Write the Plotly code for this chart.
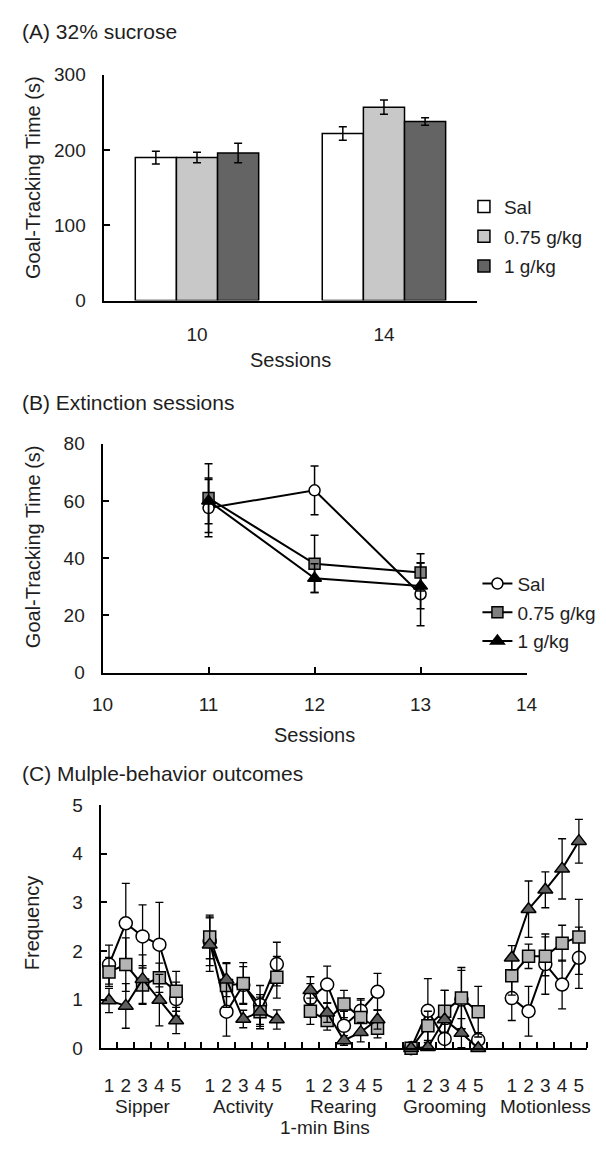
import plotly.graph_objects as go

# ---------------- Data ----------------
# Panel A: 32% sucrose
a_sessions = ["10", "14"]
a_sal = [190, 222]
a_sal_err = [8.5, 9]
a_075 = [190, 257]
a_075_err = [7, 9.5]
a_1g = [196, 238]
a_1g_err = [13, 5]

# Panel B: extinction sessions
b_sessions = [11, 12, 13]
b_sal = [57.5, 63.7, 27.4]
b_sal_err = [10, 8.5, 11]
b_075 = [61, 38, 35]
b_075_err = [12, 10, 6.5]
b_1g = [60, 33, 30.3]
b_1g_err = [8, 5, 8]

# Panel C: multiple-behavior outcomes (5 one-minute bins per behavior)
c_groups = ["Sipper", "Activity", "Rearing", "Grooming", "Motionless"]
c_bins = ["1", "2", "3", "4", "5"]
c_sal = [1.72, 2.57, 2.30, 2.13, 1.01,
         2.20, 0.75, 1.30, 0.89, 1.73,
         1.03, 1.31, 0.46, 0.77, 1.16,
         0.00, 0.77, 0.19, 1.00, 0.17,
         1.03, 0.76, 1.73, 1.31, 1.86]
c_sal_err = [0.40, 0.82, 0.65, 0.87, 0.35,
             0.50, 0.50, 0.38, 0.40, 0.45,
             0.30, 0.38, 0.30, 0.25, 0.38,
             0.00, 0.66, 0.30, 0.60, 0.15,
             0.46, 0.51, 0.62, 0.50, 0.63]
c_075 = [1.57, 1.72, 1.30, 1.45, 1.17,
         2.29, 1.29, 1.33, 0.75, 1.46,
         0.76, 0.57, 0.91, 0.63, 0.41,
         0.00, 0.46, 0.76, 1.03, 0.75,
         1.49, 1.89, 1.89, 2.16, 2.29]
c_075_err = [0.30, 0.55, 0.40, 0.30, 0.41,
             0.45, 0.45, 0.43, 0.35, 0.43,
             0.27, 0.20, 0.28, 0.36, 0.20,
             0.00, 0.30, 0.43, 0.63, 0.52,
             0.40, 0.25, 0.40, 0.37, 0.77]
c_1g = [0.98, 0.87, 1.42, 0.99, 0.57,
        2.13, 1.41, 0.60, 0.75, 0.59,
        1.19, 0.73, 0.16, 0.33, 0.59,
        0.00, 0.02, 0.59, 0.31, 0.00,
        1.86, 2.86, 3.26, 3.69, 4.26]
c_1g_err = [0.25, 0.46, 0.50, 0.53, 0.27,
            0.55, 0.35, 0.18, 0.30, 0.20,
            0.28, 0.20, 0.10, 0.20, 0.20,
            0.00, 0.10, 0.60, 0.30, 0.00,
            0.25, 0.58, 0.37, 0.62, 0.45]

series_names = ["Sal", "0.75 g/kg", "1 g/kg"]

# ---------------- Styling ----------------
FONT = "Liberation Sans, Arial, sans-serif"
TXT = "#1e1e1e"
W, H = 606, 1149


def px(x):
    return x / W


def py(y):
    return 1 - y / H


fig = go.Figure()

# ---- Panel A: bars ----
bar_colors = ["#ffffff", "#c8c8c8", "#646464"]
for name, vals, errs, col in zip(series_names, [a_sal, a_075, a_1g],
                                 [a_sal_err, a_075_err, a_1g_err], bar_colors):
    fig.add_trace(go.Bar(
        x=a_sessions, y=vals, name=name, xaxis="x", yaxis="y",
        marker=dict(color=col, line=dict(color="black", width=1.5)),
        error_y=dict(type="data", array=errs, color="black", thickness=1.5, width=4),
        legend="legend", legendgroup="a" + name,
    ))

# ---- Panel B: lines ----
b_styles = [
    dict(symbol="circle", color="white", size=11),
    dict(symbol="square", color="#808080", size=11),
    dict(symbol="triangle-up", color="black", size=12),
]
for name, vals, errs, st in zip(series_names, [b_sal, b_075, b_1g],
                                [b_sal_err, b_075_err, b_1g_err], b_styles):
    fig.add_trace(go.Scatter(
        x=b_sessions, y=vals, name=name, xaxis="x2", yaxis="y2",
        mode="lines+markers",
        line=dict(color="black", width=2),
        marker=dict(symbol=st["symbol"], color=st["color"], size=st["size"],
                    line=dict(color="black", width=1.5)),
        error_y=dict(type="data", array=errs, color="black", thickness=1.5, width=4),
        cliponaxis=False,
        legend="legend2", legendgroup="b" + name,
    ))

# ---- Panel C: lines with gaps between behaviors ----
slots = len(c_bins) + 1


def build(vals, errs):
    xs, ys, es = [], [], []
    for g in range(len(c_groups)):
        for b in range(len(c_bins)):
            i = g * len(c_bins) + b
            xs.append(g * slots + b)
            ys.append(vals[i])
            es.append(errs[i])
        xs.append(g * slots + len(c_bins))
        ys.append(None)
        es.append(0)
    return xs, ys, es


c_styles = [
    dict(symbol="circle", color="white", size=13),
    dict(symbol="square", color="#b4b4b4", size=12),
    dict(symbol="triangle-up", color="#5f5f5f", size=13),
]
for name, vals, errs, st in zip(series_names, [c_sal, c_075, c_1g],
                                [c_sal_err, c_075_err, c_1g_err], c_styles):
    xs, ys, es = build(vals, errs)
    fig.add_trace(go.Scatter(
        x=xs, y=ys, name=name, xaxis="x3", yaxis="y3",
        mode="lines+markers", connectgaps=False,
        line=dict(color="black", width=2),
        marker=dict(symbol=st["symbol"], color=st["color"], size=st["size"],
                    line=dict(color="black", width=1.5)),
        error_y=dict(type="data", array=es, color="black", thickness=1.3, width=4),
        cliponaxis=False, showlegend=False,
    ))

c_tickvals = [g * slots + b for g in range(len(c_groups)) for b in range(len(c_bins))]
c_ticktext = [c_bins[b] for g in range(len(c_groups)) for b in range(len(c_bins))]
c_minor = [k + 0.5 for k in range(len(c_groups) * slots)]

axis_common = dict(showline=True, linecolor="black", linewidth=2, showgrid=False,
                   zeroline=False, tickfont=dict(size=19, color=TXT, family=FONT),
                   tickcolor="black", tickwidth=2, ticklen=6, fixedrange=True)

fig.update_layout(
    width=W, height=H,
    margin=dict(l=0, r=0, t=0, b=0),
    paper_bgcolor="white", plot_bgcolor="rgba(0,0,0,0)",
    font=dict(family=FONT, color=TXT, size=19),
    barmode="group", bargap=0.34, bargroupgap=0,
    xaxis=dict(axis_common, domain=[px(96), px(484)], anchor="y", type="category",
               range=[-0.5, 1.5], ticks="", ticklabelstandoff=16),
    yaxis=dict(axis_common, domain=[py(296), py(66)], anchor="x", range=[0, 300],
               tickvals=[0, 100, 200, 300], ticks="inside", ticklabelstandoff=12),
    xaxis2=dict(axis_common, domain=[px(95), px(535)], anchor="y2", range=[10, 14],
                tickvals=[10, 11, 12, 13, 14], ticks="inside", ticklabelstandoff=14),
    yaxis2=dict(axis_common, domain=[py(675), py(441.7)], anchor="x2", range=[0, 80],
                tickvals=[0, 20, 40, 60, 80], ticks="inside", ticklabelstandoff=12),
    xaxis3=dict(axis_common, domain=[px(93), px(598)], anchor="y3", range=[-0.5, 28.5],
                tickmode="array", tickvals=c_tickvals, ticktext=c_ticktext, ticks="",
                ticklabelstandoff=19,
                minor=dict(ticks="inside", tickmode="array", tickvals=c_minor,
                           ticklen=6, tickwidth=1.5, tickcolor="black", showgrid=False)),
    yaxis3=dict(axis_common, domain=[py(1057.5), py(810)], anchor="x3", range=[0, 5],
                tickvals=[0, 1, 2, 3, 4, 5], ticks="inside", ticklabelstandoff=12),
    legend=dict(x=px(470), y=py(181), xanchor="left", yanchor="top",
                font=dict(size=19, color=TXT, family=FONT), bgcolor="rgba(0,0,0,0)",
                tracegroupgap=2, itemwidth=30),
    legend2=dict(x=px(484), y=py(565), xanchor="left", yanchor="top",
                 font=dict(size=19, color=TXT, family=FONT), bgcolor="rgba(0,0,0,0)",
                 tracegroupgap=1, itemwidth=30),
    showlegend=True,
)

ann = []


def add_text(text, x, y, size=20, angle=0, xanchor="center"):
    ann.append(dict(text=text, x=px(x), y=py(y), xref="paper", yref="paper",
                    showarrow=False, textangle=angle, xanchor=xanchor, yanchor="middle",
                    font=dict(size=size, color=TXT, family=FONT)))


add_text("(A) 32% sucrose", 9, 22, size=21, xanchor="left")
add_text("(B) Extinction sessions", 9, 400, size=21, xanchor="left")
add_text("(C) Mulple-behavior outcomes", 9, 778, size=21, xanchor="left")
add_text("Goal-Tracking Time (s)", 23, 171, angle=-90)
add_text("Goal-Tracking Time (s)", 23, 547, angle=-90)
add_text("Frequency", 22, 930, angle=-90)
add_text("Sessions", 290, 357)
add_text("Sessions", 315, 738)
add_text("1-min Bins", 326, 1138, size=19)

for g, gname in enumerate(c_groups):
    ann.append(dict(text=gname, x=g * slots + 2, y=py(1117), xref="x3", yref="paper",
                    showarrow=False, xanchor="center", yanchor="middle",
                    font=dict(size=19, color=TXT, family=FONT)))

fig.update_layout(annotations=ann)

fig.write_html(
    "out.html",
    config={"displayModeBar": False},
    post_script="document.body.style.margin='0';document.body.style.padding='0';"
                "document.body.style.overflow='hidden';"
                "document.documentElement.style.overflow='hidden';",
)
